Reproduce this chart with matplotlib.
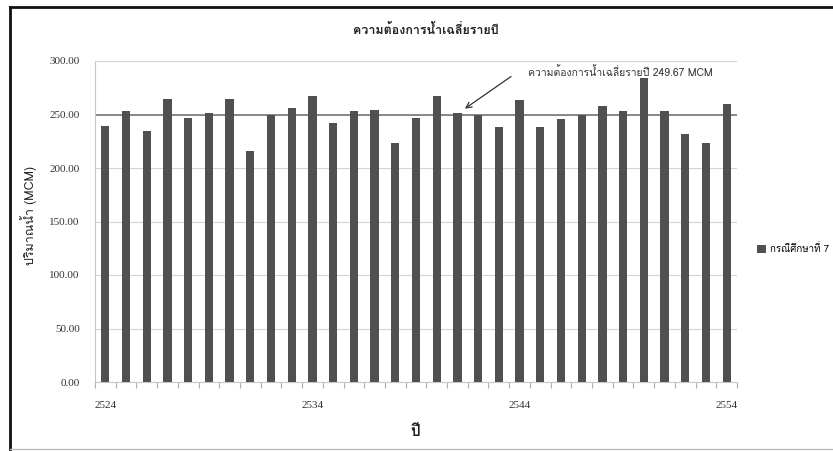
import matplotlib
matplotlib.use("Agg")
import matplotlib.pyplot as plt
from matplotlib import font_manager
from matplotlib.ft2font import FT2Font
from matplotlib.lines import Line2D
import numpy as np

# Annual water demand, case study 7 (MCM)
years = list(range(2524, 2555))
demand = [239.3, 253.3, 234.6, 264.2, 246.8, 251.7, 264.8, 216.0, 249.6, 256.4,
          267.0, 242.1, 253.3, 254.2, 223.4, 246.8, 267.3, 251.4, 249.6, 238.7,
          263.6, 238.4, 245.9, 249.9, 258.0, 253.6, 284.4, 253.3, 231.8, 223.4,
          259.6]
mean_demand = 249.67
label_years = [2524, 2534, 2544, 2554]
series_name = "กรณีศึกษาที่ 7"


def find_thai_font():
    # pick the first installed font that has Thai glyphs
    for f in font_manager.fontManager.ttflist:
        try:
            if 0x0E01 in FT2Font(f.fname).get_charmap():
                return f.name
        except Exception:
            continue
    return None


thai = find_thai_font()
thai_fam = [thai, "DejaVu Sans"] if thai else ["DejaVu Sans"]
serif = ["Liberation Serif", "DejaVu Serif"]

fig = plt.figure(figsize=(8.33, 4.51), dpi=100)
ax = fig.add_axes([95 / 833, 1 - 382 / 451, 642 / 833, 321 / 451])

x = np.arange(len(years))
bars = ax.bar(x, demand, width=0.4, color="#505050", zorder=3)
ax.axhline(mean_demand, color="#808080", lw=1.3, zorder=2)

ax.set_xlim(-0.5, len(years) - 0.5)
ax.set_ylim(0, 300)
ax.set_yticks(np.arange(0, 301, 50))
ax.set_yticklabels([f"{v:.2f}" for v in np.arange(0, 301, 50)],
                   fontsize=8, family=serif, color="#333333")
ax.tick_params(axis="y", length=0, pad=11)
ax.grid(axis="y", color="#d4d4d4", lw=0.8, zorder=0)

# labels only on every tenth year, tick marks between categories
ax.set_xticks([years.index(y) for y in label_years])
ax.set_xticklabels([str(y) for y in label_years], fontsize=8, family=serif,
                   color="#333333")
ax.tick_params(axis="x", length=0, pad=14)
ax.set_xticks(np.arange(len(years) + 1) - 0.5, minor=True)
ax.tick_params(axis="x", which="minor", length=4, color="#b0b0b0", width=0.8)

for s in ["top", "right"]:
    ax.spines[s].set_visible(False)
for s in ["left", "bottom"]:
    ax.spines[s].set_color("#c8c8c8")
    ax.spines[s].set_linewidth(0.8)

ax.set_ylabel("ปริมาณน้ำ (MCM)", family=thai_fam, fontsize=9, color="#222222")
ax.yaxis.set_label_coords(-0.09, 0.52)
ax.set_xlabel("ปี", family=thai_fam, fontsize=11, fontweight="bold",
              color="#222222")
ax.xaxis.set_label_coords(0.498, -0.135)

fig.text(426 / 833, 1 - 30 / 451, "ความต้องการน้ำเฉลี่ยรายปี", family=thai_fam,
         fontsize=9, fontweight="bold", ha="center", va="center",
         color="#222222")

ax.annotate("", xy=(17.25, 254), xytext=(19.7, 287),
            arrowprops=dict(arrowstyle="->", color="#333333", lw=0.9),
            zorder=5)
ax.text(20.4, 290, f"ความต้องการน้ำเฉลี่ยรายปี {mean_demand:.2f} MCM",
        family=thai_fam, fontsize=7.5, color="#333333", va="center",
        ha="left", zorder=5)

ax.legend([bars], [series_name], loc="center left", frameon=False,
          bbox_to_anchor=(757 / 833, 1 - 249 / 451),
          bbox_transform=fig.transFigure, handlelength=0.9, handleheight=0.9,
          handletextpad=0.4, borderpad=0, borderaxespad=0,
          prop={"family": thai_fam, "size": 7})

# outer frame
fig.add_artist(Line2D([10 / 833, 10 / 833], [0, 1 - 7 / 451],
                      transform=fig.transFigure, color="#111111", lw=2))
fig.add_artist(Line2D([10 / 833, 1], [1 - 7 / 451, 1 - 7 / 451],
                      transform=fig.transFigure, color="#111111", lw=2))
fig.add_artist(Line2D([10 / 833, 1], [1 - 449 / 451, 1 - 449 / 451],
                      transform=fig.transFigure, color="#bdbdbd", lw=1))

fig.savefig("out.png", dpi=100)
